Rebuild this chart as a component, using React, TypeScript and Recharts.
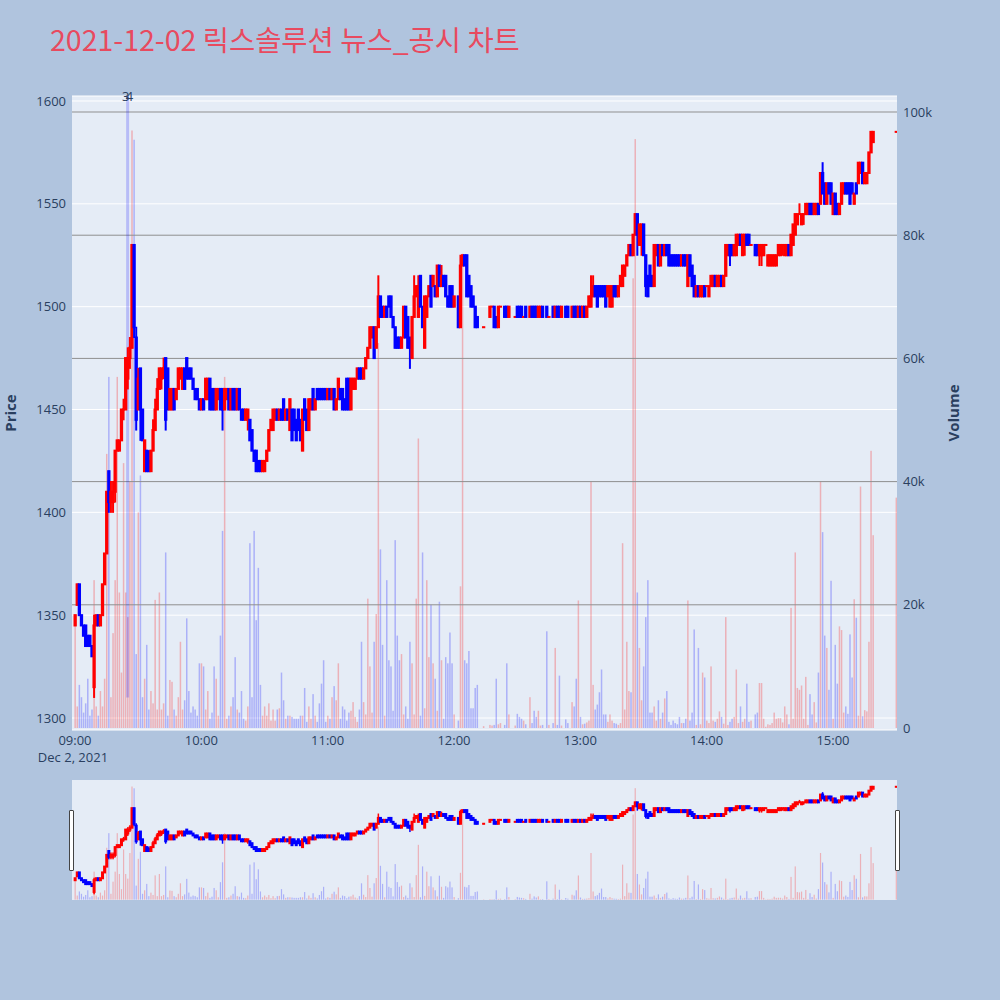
import { Bar, CartesianGrid, ComposedChart, ReferenceLine, XAxis, YAxis } from 'recharts'

// one candle per minute from 09:00: [open, high, low, close, volume], null = no trade
type Candle = [number, number, number, number, number] | null

const h09: Candle[] = [
  [1345, 1350, 1345, 1350, 17500], [1355, 1365, 1355, 1365, 3500], [1365, 1365, 1350, 1350, 7000],
  [1350, 1350, 1345, 1345, 5000], [1345, 1345, 1340, 1340, 2500], [1345, 1345, 1335, 1335, 4000],
  [1340, 1340, 1335, 1335, 8000], [1340, 1340, 1335, 1335, 2000], [1335, 1335, 1330, 1330, 3000],
  [1315, 1350, 1310, 1345, 24000], [1345, 1350, 1345, 1350, 3500], [1350, 1350, 1345, 1345, 2000],
  [1345, 1350, 1345, 1350, 6000], [1350, 1365, 1350, 1365, 3500], [1365, 1380, 1365, 1380, 8000],
  [1380, 1410, 1380, 1410, 44500], [1420, 1420, 1400, 1405, 57000], [1405, 1415, 1400, 1410, 5000],
  [1405, 1415, 1400, 1410, 15400], [1410, 1430, 1405, 1430, 24000], [1430, 1435, 1430, 1435, 57000],
  [1430, 1435, 1430, 1435, 22000], [1435, 1450, 1435, 1450, 9000], [1450, 1455, 1445, 1450, 43000],
  [1450, 1475, 1450, 1475, 22000], [1465, 1480, 1460, 1475, 18000], [1475, 1485, 1470, 1480, 40000],
  [1480, 1530, 1480, 1530, 97000], [1530, 1530, 1485, 1490, 95500], [1485, 1490, 1440, 1445, 12000],
  [1450, 1470, 1450, 1465, 35000], [1470, 1470, 1435, 1450, 41000], [1450, 1450, 1435, 1435, 5000],
  [1420, 1435, 1420, 1435, 8000], [1430, 1430, 1420, 1420, 13500], [1425, 1430, 1420, 1420, 3000],
  [1420, 1430, 1420, 1430, 6000], [1430, 1445, 1430, 1440, 4000], [1440, 1455, 1440, 1450, 20800],
  [1450, 1465, 1450, 1460, 3000], [1460, 1470, 1460, 1470, 22000], [1465, 1470, 1460, 1470, 3000],
  [1470, 1475, 1465, 1470, 4000], [1475, 1475, 1440, 1445, 28500], [1470, 1470, 1450, 1450, 2000],
  [1450, 1460, 1450, 1460, 7800], [1450, 1460, 1450, 1460, 7500], [1460, 1460, 1450, 1450, 3000],
  [1455, 1460, 1455, 1460, 2000], [1460, 1470, 1460, 1470, 5000], [1465, 1470, 1465, 1470, 14000],
  [1460, 1470, 1460, 1470, 3000], [1470, 1470, 1460, 1460, 4500], [1475, 1475, 1465, 1465, 17800],
  [1470, 1470, 1465, 1465, 6000], [1470, 1470, 1465, 1465, 2500], [1465, 1465, 1460, 1460, 3500],
  [1460, 1460, 1455, 1455, 3000], [1460, 1460, 1455, 1455, 2000], [1455, 1455, 1450, 1450, 10500],
]

const h10: Candle[] = [
  [1450, 1455, 1450, 1455, 10500], [1455, 1455, 1450, 1450, 10000], [1455, 1465, 1455, 1465, 3000],
  [1455, 1465, 1455, 1465, 6000], [1465, 1465, 1450, 1450, 1500], [1460, 1460, 1450, 1450, 2500],
  [1460, 1460, 1450, 1450, 10000], [1450, 1460, 1450, 1460, 8000], [1455, 1460, 1455, 1460, 2000],
  [1460, 1460, 1450, 1450, 15000], [1460, 1460, 1440, 1450, 32000], [1450, 1460, 1450, 1460, 57000],
  [1455, 1460, 1455, 1460, 1500], [1460, 1460, 1450, 1450, 2000], [1450, 1460, 1450, 1460, 3500],
  [1460, 1460, 1450, 1450, 5000], [1460, 1460, 1450, 1450, 11500], [1450, 1460, 1450, 1460, 3000],
  [1460, 1460, 1450, 1450, 2500], [1450, 1450, 1445, 1445, 6000], [1450, 1450, 1445, 1445, 1500],
  [1445, 1450, 1445, 1450, 1200], [1445, 1450, 1440, 1450, 3500], [1445, 1445, 1435, 1435, 30000],
  [1440, 1440, 1430, 1430, 5000], [1430, 1430, 1425, 1425, 32000], [1430, 1430, 1420, 1420, 17500],
  [1425, 1425, 1420, 1420, 26000], [1425, 1425, 1420, 1420, 7000], [1420, 1425, 1420, 1425, 2000],
  [1420, 1425, 1420, 1425, 3500], [1425, 1430, 1425, 1430, 2000], [1430, 1440, 1430, 1440, 4000],
  [1440, 1445, 1440, 1445, 1200], [1440, 1450, 1440, 1450, 3000], [1445, 1450, 1445, 1450, 1200],
  [1450, 1450, 1445, 1445, 3000], [1445, 1450, 1445, 1450, 3200], [1450, 1450, 1445, 1445, 9000],
  [1455, 1455, 1445, 1445, 4500], [1445, 1450, 1445, 1450, 1500], [1450, 1450, 1445, 1445, 2000],
  [1440, 1455, 1440, 1455, 2000], [1450, 1450, 1435, 1435, 1800], [1450, 1450, 1440, 1440, 1500],
  [1445, 1445, 1435, 1435, 1500], [1450, 1450, 1440, 1440, 1500], [1445, 1445, 1435, 1435, 2000],
  [1430, 1450, 1430, 1450, 2000], [1455, 1455, 1445, 1445, 6500], [1450, 1450, 1440, 1440, 1000],
  [1440, 1455, 1440, 1455, 3500], [1450, 1455, 1450, 1455, 1500], [1460, 1460, 1450, 1450, 5500],
  [1450, 1455, 1450, 1455, 2000], [1460, 1460, 1455, 1455, 1000], [1460, 1460, 1455, 1455, 4000],
  [1460, 1460, 1455, 1455, 7200], [1460, 1460, 1455, 1455, 11000], [1460, 1460, 1455, 1455, 1000],
]

const h11: Candle[] = [
  [1455, 1460, 1455, 1460, 2000], [1460, 1460, 1455, 1455, 1500], [1455, 1460, 1455, 1460, 5000],
  [1460, 1460, 1450, 1450, 6800], [1450, 1455, 1450, 1455, 4500], [1455, 1465, 1455, 1465, 10500],
  [1460, 1460, 1455, 1455, 1500], [1460, 1460, 1450, 1450, 3500], [1455, 1455, 1450, 1450, 3000],
  [1465, 1465, 1450, 1450, 1200], [1465, 1465, 1450, 1450, 2500], [1450, 1465, 1450, 1465, 2800],
  [1460, 1465, 1460, 1465, 4200], [1460, 1465, 1460, 1465, 1800], [1465, 1470, 1465, 1470, 1000],
  [1470, 1470, 1465, 1465, 3000], [1470, 1470, 1465, 1465, 14000], [1465, 1470, 1465, 1470, 4200],
  [1470, 1475, 1470, 1475, 2200], [1475, 1480, 1475, 1480, 21000], [1480, 1490, 1480, 1490, 10000],
  [1485, 1490, 1485, 1490, 2500], [1490, 1490, 1475, 1475, 14000], [1480, 1490, 1480, 1490, 18500],
  [1490, 1515, 1490, 1505, 62500], [1505, 1505, 1495, 1495, 29000], [1500, 1500, 1495, 1495, 13500],
  [1495, 1500, 1495, 1500, 2000], [1500, 1500, 1495, 1495, 24000], [1505, 1505, 1500, 1500, 11000],
  [1505, 1505, 1495, 1495, 10000], [1495, 1495, 1490, 1490, 2800], [1490, 1490, 1480, 1480, 30500],
  [1485, 1485, 1480, 1480, 15000], [1485, 1485, 1480, 1480, 11000], [1480, 1485, 1480, 1485, 12000],
  [1485, 1500, 1485, 1500, 2200], [1500, 1500, 1485, 1485, 3500], [1495, 1495, 1480, 1480, 1500],
  [1485, 1485, 1470, 1480, 14000], [1475, 1495, 1475, 1495, 10500], [1495, 1515, 1495, 1505, 2200],
  [1505, 1510, 1505, 1510, 21000], [1495, 1515, 1495, 1510, 47000], [1515, 1515, 1500, 1500, 2000],
  [1500, 1500, 1490, 1490, 28500], [1480, 1505, 1480, 1505, 3200], [1495, 1505, 1495, 1505, 24000],
  [1505, 1510, 1505, 1510, 11500], [1515, 1515, 1500, 1500, 20000], [1510, 1515, 1510, 1515, 10500],
  [1510, 1510, 1505, 1505, 8000], [1505, 1520, 1505, 1520, 2800], [1520, 1520, 1510, 1510, 20500],
  [1510, 1520, 1510, 1515, 11000], [1515, 1515, 1510, 1510, 1500], [1515, 1515, 1505, 1505, 11500],
  [1505, 1505, 1500, 1500, 10500], [1510, 1510, 1500, 1500, 15500], [1510, 1510, 1500, 1500, 10500],
]

const h12: Candle[] = [
  [1500, 1505, 1500, 1505, 2200], null, [1505, 1505, 1490, 1490, 1200],
  [1490, 1525, 1490, 1520, 23000], [1520, 1525, 1520, 1525, 77000], [1525, 1525, 1520, 1520, 11000],
  [1525, 1525, 1505, 1505, 10500], [1515, 1515, 1505, 1505, 12500], [1510, 1510, 1500, 1500, 3200],
  [1505, 1505, 1500, 1500, 3200], [1500, 1500, 1490, 1490, 6500], [1495, 1495, 1490, 1490, 7000],
  null, null, [1490, 1490, 1490, 1490, 300],
  null, null, [1495, 1500, 1495, 1500, 500],
  [1500, 1500, 1500, 1500, 400], [1500, 1500, 1490, 1490, 500], [1495, 1495, 1490, 1490, 8000],
  [1490, 1500, 1490, 1500, 600], [1500, 1500, 1500, 1500, 800], null,
  [1500, 1500, 1495, 1495, 500], [1500, 1500, 1495, 1495, 10500], [1495, 1500, 1495, 1500, 2200],
  null, null, [1495, 1495, 1495, 1495, 400],
  [1500, 1500, 1495, 1495, 2300], [1500, 1500, 1495, 1495, 1800], [1500, 1500, 1495, 1495, 1500],
  [1495, 1495, 1495, 1495, 1200], [1500, 1500, 1495, 1495, 600], null,
  [1495, 1500, 1495, 1500, 5000], [1500, 1500, 1495, 1495, 800], [1500, 1500, 1495, 1495, 2800],
  [1500, 1500, 1495, 1495, 1800], [1495, 1500, 1495, 1500, 2800], [1495, 1500, 1495, 1500, 400],
  [1500, 1500, 1495, 1495, 500], null, [1500, 1500, 1495, 1495, 15700],
  [1495, 1495, 1495, 1495, 500], null, [1500, 1500, 1495, 1495, 800],
  [1495, 1500, 1495, 1500, 13000], [1500, 1500, 1495, 1495, 500], [1500, 1500, 1495, 1495, 8500],
  [1495, 1500, 1495, 1500, 400], null, [1500, 1500, 1495, 1495, 1400],
  [1500, 1500, 1495, 1495, 800], null, [1495, 1500, 1495, 1500, 4200],
  [1500, 1500, 1495, 1495, 3500], [1500, 1500, 1495, 1495, 8000], [1495, 1500, 1495, 1500, 20700],
]

const h13: Candle[] = [
  [1500, 1500, 1495, 1495, 1800], [1495, 1500, 1495, 1500, 600], [1500, 1500, 1495, 1495, 700],
  [1495, 1500, 1495, 1500, 900], [1500, 1505, 1500, 1505, 1200], [1500, 1515, 1500, 1505, 40000],
  [1505, 1515, 1505, 1510, 7000], [1510, 1510, 1505, 1505, 3000], [1510, 1510, 1500, 1500, 3800],
  [1510, 1510, 1505, 1505, 5800], [1510, 1510, 1505, 1505, 9500], [1510, 1510, 1505, 1505, 2200],
  [1510, 1510, 1500, 1500, 2200], [1505, 1510, 1505, 1510, 1000], [1500, 1510, 1500, 1510, 2200],
  [1500, 1510, 1500, 1510, 1200], [1510, 1510, 1505, 1505, 800], [1510, 1510, 1505, 1505, 700],
  [1505, 1510, 1505, 1510, 500], [1510, 1515, 1510, 1515, 800], [1510, 1520, 1510, 1520, 30000],
  [1515, 1520, 1515, 1520, 3000], [1520, 1525, 1520, 1525, 14000], [1525, 1530, 1525, 1530, 6000],
  [1530, 1530, 1525, 1525, 5800], [1525, 1535, 1525, 1535, 73000], [1535, 1545, 1535, 1545, 95600],
  [1545, 1545, 1525, 1535, 22000], [1530, 1540, 1530, 1540, 13000], [1530, 1540, 1525, 1540, 4500],
  [1540, 1540, 1525, 1525, 10000], [1525, 1525, 1505, 1510, 18000], [1515, 1515, 1505, 1505, 24000],
  [1520, 1520, 1510, 1510, 2500], [1515, 1515, 1510, 1510, 2500], [1510, 1530, 1510, 1530, 3500],
  [1525, 1530, 1525, 1530, 1200], [1530, 1530, 1520, 1520, 4500], [1520, 1530, 1520, 1530, 1500],
  [1530, 1530, 1525, 1525, 2500], [1525, 1530, 1525, 1530, 4800], [1530, 1530, 1525, 1525, 6000],
  [1530, 1530, 1520, 1520, 1000], [1525, 1525, 1520, 1520, 500], [1525, 1525, 1520, 1520, 1200],
  [1525, 1525, 1520, 1520, 800], [1525, 1525, 1520, 1520, 600], [1525, 1525, 1520, 1520, 1800],
  [1520, 1525, 1520, 1525, 800], [1525, 1525, 1520, 1520, 800], [1525, 1525, 1520, 1520, 1500],
  [1510, 1525, 1510, 1525, 20700], [1525, 1525, 1515, 1515, 1200], [1520, 1520, 1510, 1510, 2500],
  [1515, 1515, 1505, 1505, 16000], [1505, 1510, 1505, 1510, 500], [1510, 1510, 1505, 1505, 13000],
  [1505, 1510, 1505, 1510, 600], [1505, 1510, 1505, 1510, 9000], [1510, 1510, 1505, 1505, 8200],
]

const h14: Candle[] = [
  [1510, 1510, 1510, 1510, 1200], [1505, 1510, 1505, 1510, 800], [1510, 1515, 1510, 1515, 10000],
  [1510, 1515, 1510, 1515, 1200], [1515, 1515, 1510, 1510, 1000], [1510, 1515, 1510, 1515, 1500],
  [1510, 1515, 1510, 1515, 2700], [1515, 1515, 1510, 1510, 1800], [1510, 1515, 1510, 1515, 700],
  [1515, 1530, 1515, 1530, 18000], [1525, 1530, 1525, 1530, 500], [1530, 1530, 1520, 1525, 1000],
  [1530, 1530, 1525, 1525, 1500], [1525, 1530, 1525, 1530, 1800], [1525, 1535, 1525, 1535, 9500],
  [1530, 1535, 1530, 1535, 800], [1535, 1535, 1530, 1530, 3500], [1525, 1535, 1525, 1535, 1000],
  [1530, 1535, 1525, 1535, 1500], [1535, 1535, 1530, 1530, 7200], [1535, 1535, 1530, 1530, 1000],
  [1530, 1530, 1530, 1530, 1200], null, [1530, 1530, 1525, 1525, 2200],
  [1530, 1530, 1525, 1525, 2500], [1525, 1530, 1520, 1530, 7300], [1525, 1530, 1520, 1530, 7300],
  [1525, 1530, 1525, 1530, 1500], [1530, 1530, 1530, 1530, 200], [1520, 1525, 1520, 1525, 600],
  [1520, 1525, 1520, 1525, 500], [1520, 1525, 1520, 1525, 800], [1520, 1525, 1520, 1525, 2500],
  [1520, 1525, 1520, 1525, 1500], [1525, 1530, 1525, 1530, 1600], [1525, 1530, 1525, 1530, 1600],
  [1530, 1530, 1525, 1530, 900], [1525, 1530, 1525, 1530, 3500], [1525, 1530, 1525, 1530, 2200],
  [1530, 1530, 1525, 1525, 600], [1525, 1535, 1525, 1535, 19500], [1530, 1540, 1530, 1540, 1500],
  [1535, 1545, 1535, 1545, 28500], [1540, 1545, 1540, 1545, 6500], [1545, 1550, 1545, 1545, 6200],
  [1540, 1545, 1540, 1545, 6900], [1545, 1545, 1540, 1545, 1500], [1545, 1550, 1545, 1550, 8300],
  [1545, 1550, 1545, 1550, 500], [1550, 1550, 1545, 1545, 5500], [1550, 1550, 1545, 1545, 2200],
  [1545, 1550, 1545, 1550, 4200], [1545, 1550, 1545, 1550, 900], [1550, 1550, 1545, 1545, 9000],
  [1550, 1565, 1550, 1565, 40000], [1565, 1570, 1555, 1555, 31800], [1560, 1560, 1550, 1550, 15000],
  [1550, 1560, 1550, 1560, 13000], [1560, 1560, 1555, 1555, 6200], [1560, 1560, 1550, 1550, 23900],
]

const h15: Candle[] = [
  [1545, 1555, 1545, 1555, 1500], [1555, 1555, 1545, 1545, 13500], [1550, 1550, 1545, 1545, 7200],
  [1545, 1550, 1545, 1550, 16500], [1550, 1560, 1550, 1560, 15900], [1555, 1560, 1555, 1560, 2500],
  [1560, 1560, 1555, 1555, 3500], [1560, 1560, 1555, 1555, 2300], [1560, 1560, 1550, 1550, 15200],
  [1560, 1560, 1555, 1555, 8200], [1550, 1555, 1550, 1555, 20900], [1560, 1560, 1555, 1555, 17900],
  [1560, 1570, 1560, 1570, 2000], [1565, 1570, 1565, 1570, 39200], [1570, 1570, 1560, 1560, 1900],
  [1560, 1565, 1560, 1565, 2900], [1560, 1565, 1560, 1565, 2700], [1565, 1575, 1565, 1575, 14000],
  [1575, 1585, 1575, 1585, 45000], [1580, 1585, 1580, 1585, 31300],
  null, null, null, null, null, null, null, null, null, null,
  [1585, 1585, 1585, 1585, 37400],
]

const priceTicks = [1300, 1350, 1400, 1450, 1500, 1550, 1600]
const volumeTicks = [0, 20000, 40000, 60000, 80000, 100000]
const hourTicks = [0, 60, 120, 180, 240, 300, 360]
const newsMinute = 25
const newsLabels = ['3', '4']
const newsLow = 1310

const timeDomain: [number, number] = [-1.42, 390.4]
const priceDomain: [number, number] = [1294.17, 1602.43]
const volumeDomain: [number, number] = [-325, 102600]

const UP = '#ff0000'
const DOWN = '#0000ff'
const AXIS_COLOR = '#2a3f5f'
const TICK_FONT = 13

type Row = {
  t: number
  open: number
  high: number
  low: number
  close: number
  volume: number
  range: [number, number]
  up: boolean
}

const rows: Row[] = []
;[...h09, ...h10, ...h11, ...h12, ...h13, ...h14, ...h15].forEach((c, i) => {
  if (!c) return
  const [open, high, low, close, volume] = c
  rows.push({ t: i, open, high, low, close, volume, range: [low, high], up: close >= open })
})

function candleShape(bodyW: number, wickW: number) {
  return (props: any) => {
    const { x, y, width, height, payload } = props
    if (!payload || x == null || y == null) return <g />
    const cx = x + width / 2
    const top = Math.min(y, y + height)
    const bottom = Math.max(y, y + height)
    const span = payload.high - payload.low
    const yOf = (v: number) => (span === 0 ? top : bottom - ((v - payload.low) / span) * (bottom - top))
    const yo = yOf(payload.open)
    const yc = yOf(payload.close)
    const bTop = Math.min(yo, yc) - 1
    const bBot = Math.max(yo, yc) + 1
    const color = payload.up ? UP : DOWN
    return (
      <g>
        <rect x={cx - wickW / 2} y={top - 0.5} width={wickW} height={bottom - top + 1} fill={color} />
        <rect x={cx - bodyW / 2} y={bTop} width={bodyW} height={bBot - bTop} fill={color} />
      </g>
    )
  }
}

function volumeShape(w: number) {
  return (props: any) => {
    const { x, y, width, height, payload } = props
    if (!payload || x == null || y == null) return <g />
    const cx = x + width / 2
    const top = Math.min(y, y + height)
    return (
      <rect
        x={cx - w / 2}
        y={top}
        width={w}
        height={Math.abs(height)}
        fill={payload.up ? UP : DOWN}
        fillOpacity={0.25}
      />
    )
  }
}

function TimeTick(props: any) {
  const { x, y, payload } = props
  const v = payload.value as number
  const label = `${String(9 + Math.floor(v / 60)).padStart(2, '0')}:00`
  return (
    <g>
      <text x={x} y={y + 15} textAnchor="middle" fill={AXIS_COLOR} fontSize={TICK_FONT}>
        {label}
      </text>
      {v === 0 && (
        <text x={x - 2} y={y + 32} textAnchor="middle" fill={AXIS_COLOR} fontSize={TICK_FONT}>
          Dec 2, 2021
        </text>
      )}
    </g>
  )
}

function NewsLabel(props: any) {
  const vb = props.viewBox
  if (!vb) return null
  return (
    <g>
      {newsLabels.map((s, i) => (
        <text
          key={s}
          x={vb.x + (i === 0 ? -1.8 : 1.8)}
          y={vb.y}
          dy="0.36em"
          textAnchor="middle"
          fontSize={TICK_FONT}
          fill={AXIS_COLOR}
        >
          {s}
        </text>
      ))}
    </g>
  )
}

const volTickFormat = (v: number) => (v === 0 ? '0' : `${v / 1000}k`)

const axisTitle = {
  position: 'absolute' as const,
  top: 413,
  transform: 'translate(-50%, -50%) rotate(-90deg)',
  fontSize: 15,
  fontWeight: 700,
  color: AXIS_COLOR,
  whiteSpace: 'nowrap' as const,
}

const handle = {
  position: 'absolute' as const,
  top: 30,
  width: 3,
  height: 59,
  background: '#ffffff',
  border: '1px solid #444',
  borderRadius: 1,
}

function App() {
  return (
    <div
      style={{
        position: 'absolute',
        left: 0,
        top: 0,
        width: 1000,
        height: 1000,
        background: '#b0c4de',
        fontFamily: '"Open Sans", sans-serif',
        overflow: 'hidden',
      }}
    >
      <div
        style={{
          position: 'absolute',
          left: 50,
          top: 25,
          fontSize: 28.5,
          lineHeight: 1,
          color: '#e84a5f',
          fontFamily: '"Noto Sans CJK KR", "Open Sans", sans-serif',
          whiteSpace: 'nowrap',
        }}
      >
        2021-12-02 릭스솔루션 뉴스_공시 차트
      </div>

      {/* main plot: background, grids, axes, volume */}
      <div style={{ position: 'absolute', left: 0, top: 0 }}>
        <ComposedChart width={1000} height={800} data={rows} margin={{ top: 96, right: 0, bottom: 0, left: 0 }}>
          <CartesianGrid vertical={false} stroke="#ffffff" fill="#e5ecf6" fillOpacity={1} />
          <XAxis
            dataKey="t"
            type="number"
            domain={timeDomain}
            allowDataOverflow
            ticks={hourTicks}
            interval={0}
            height={70}
            axisLine={false}
            tickLine={false}
            tickSize={0}
            tickMargin={0}
            tick={<TimeTick />}
          />
          <YAxis
            type="number"
            domain={priceDomain}
            allowDataOverflow
            ticks={priceTicks}
            width={72}
            axisLine={false}
            tickLine={false}
            tickSize={6}
            tickMargin={0}
            tick={{ fill: AXIS_COLOR, fontSize: TICK_FONT }}
          />
          <YAxis
            yAxisId="vol"
            orientation="right"
            type="number"
            domain={volumeDomain}
            allowDataOverflow
            ticks={volumeTicks}
            tickFormatter={volTickFormat}
            width={103}
            axisLine={false}
            tickLine={false}
            tickSize={6}
            tickMargin={0}
            tick={{ fill: AXIS_COLOR, fontSize: TICK_FONT }}
          />
          {volumeTicks.slice(1).map((v) => (
            <ReferenceLine key={v} yAxisId="vol" y={v} stroke="#8f8f8f" strokeWidth={1} />
          ))}
          <Bar yAxisId="vol" dataKey="volume" shape={volumeShape(1.5)} isAnimationActive={false} />
          <ReferenceLine
            segment={[
              { x: newsMinute, y: newsLow },
              { x: newsMinute, y: priceDomain[1] },
            ]}
            stroke="#0000ff"
            strokeOpacity={0.2}
            strokeWidth={3}
            ifOverflow="visible"
            label={(p: any) => <NewsLabel {...p} />}
          />
        </ComposedChart>
      </div>

      {/* main plot: candles */}
      <div style={{ position: 'absolute', left: 0, top: 0 }}>
        <ComposedChart width={1000} height={800} data={rows} margin={{ top: 96, right: 103, bottom: 70, left: 72 }}>
          <XAxis dataKey="t" type="number" domain={timeDomain} allowDataOverflow hide />
          <YAxis type="number" domain={priceDomain} allowDataOverflow hide />
          <Bar dataKey="range" shape={candleShape(3.3, 2)} isAnimationActive={false} />
        </ComposedChart>
      </div>

      <div style={{ ...axisTitle, left: 10 }}>Price</div>
      <div style={{ ...axisTitle, left: 953 }}>Volume</div>

      {/* range slider */}
      <div style={{ position: 'absolute', left: 72, top: 780, width: 825, height: 120, background: '#e5ecf6' }}>
        <div style={{ position: 'absolute', left: 0, top: 0 }}>
          <ComposedChart width={825} height={120} data={rows} margin={{ top: 0, right: 0, bottom: 0, left: 0 }}>
            <XAxis dataKey="t" type="number" domain={timeDomain} allowDataOverflow hide />
            <YAxis yAxisId="vol" type="number" domain={volumeDomain} allowDataOverflow hide />
            <Bar yAxisId="vol" dataKey="volume" shape={volumeShape(1.2)} isAnimationActive={false} />
          </ComposedChart>
        </div>
        <div style={{ position: 'absolute', left: 0, top: 0 }}>
          <ComposedChart width={825} height={120} data={rows} margin={{ top: 0, right: 0, bottom: 0, left: 0 }}>
            <XAxis dataKey="t" type="number" domain={timeDomain} allowDataOverflow hide />
            <YAxis type="number" domain={priceDomain} allowDataOverflow hide />
            <Bar dataKey="range" shape={candleShape(3, 1.5)} isAnimationActive={false} />
          </ComposedChart>
        </div>
        <div style={{ ...handle, left: -3 }} />
        <div style={{ ...handle, left: 823 }} />
      </div>
    </div>
  )
}

export default App
